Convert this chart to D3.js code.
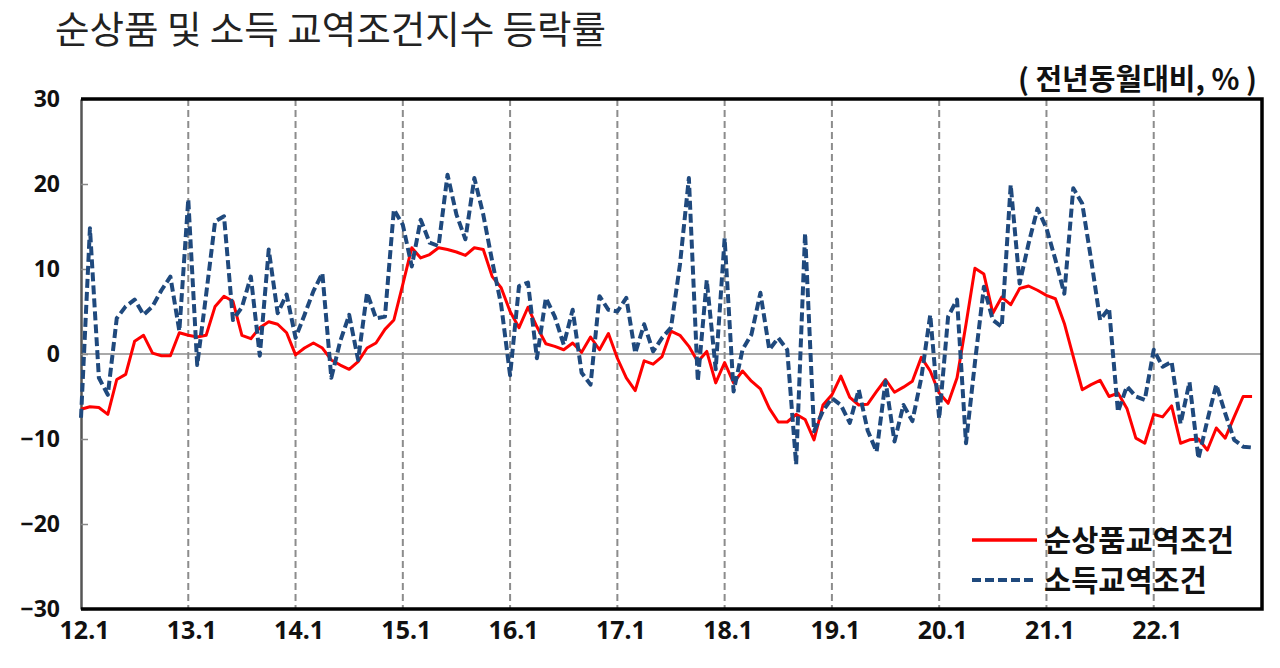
<!DOCTYPE html>
<html>
<head>
<meta charset="utf-8">
<title>순상품 및 소득 교역조건지수 등락률</title>
<script src="https://cdn.jsdelivr.net/npm/d3@7"></script>
<style>
  body { margin:0; background:white; }
  svg { display:block; font-family:"Noto Sans CJK KR","Noto Sans",sans-serif; }
</style>
</head>
<body>
<div id="chart"></div>
<script>
// x labels: first month of each year (12.1 = 2012 Jan)
var yearLabels = ['12.1','13.1','14.1','15.1','16.1','17.1','18.1','19.1','20.1','21.1','22.1'];
var yTicks = [-30, -20, -10, 0, 10, 20, 30];
var seriesNames = ['순상품교역조건', '소득교역조건'];

// monthly YoY change, %, 2012.1 ~ 2022.12
var netTerms = [
  -6.5, -6.2, -6.3, -7.1, -3.0, -2.4, 1.5, 2.2, 0.1, -0.2, -0.2, 2.5,
  2.2, 2.0, 2.2, 5.6, 6.8, 6.2, 2.2, 1.8, 3.1, 3.8, 3.5, 2.5,
  -0.1, 0.7, 1.3, 0.7, -0.7, -1.3, -1.8, -0.9, 0.7, 1.3, 2.9, 4.0,
  8.2, 12.5, 11.3, 11.7, 12.5, 12.3, 12.0, 11.6, 12.5, 12.3, 9.1, 7.8,
  5.0, 3.1, 5.5, 3.2, 1.2, 0.9, 0.5, 1.3, 0.2, 2.0, 0.5, 2.4,
  -0.5, -2.8, -4.3, -0.8, -1.2, -0.3, 2.7, 2.2, 0.9, -0.9, 0.3, -3.4,
  -1.0, -3.4, -2.0, -3.2, -4.1, -6.4, -8.0, -8.0, -7.1, -7.7, -10.1, -6.0,
  -4.8, -2.6, -5.1, -6.0, -5.9, -4.4, -3.0, -4.5, -3.9, -3.2, -0.4, -2.0,
  -4.6, -5.8, -2.8, 3.5, 10.1, 9.4, 4.8, 6.7, 5.8, 7.7, 8.0, 7.5,
  6.9, 6.5, 3.6, -0.3, -4.2, -3.6, -3.1, -5.0, -4.6, -6.4, -9.9, -10.5,
  -7.1, -7.4, -6.1, -10.5, -10.1, -10.0, -11.3, -8.7, -9.9, -7.4, -5.0, -5.0
];
var incomeTerms = [
  -7.5, 14.8, -2.8, -4.8, 4.2, 5.6, 6.4, 4.6, 5.6, 7.5, 9.1, 2.7,
  18.2, -1.3, 7.0, 15.6, 16.2, 4.0, 5.5, 9.1, -0.2, 12.3, 4.8, 7.0,
  1.9, 4.6, 7.4, 9.5, -2.8, 1.5, 4.6, -0.7, 7.2, 4.2, 4.4, 17.0,
  15.2, 10.3, 15.8, 13.1, 12.7, 21.1, 16.4, 13.5, 20.7, 16.4, 10.9, 5.8,
  -2.5, 8.0, 8.4, -0.5, 6.6, 4.4, 1.1, 5.2, -2.2, -3.6, 6.8, 5.2,
  5.0, 6.6, 0.1, 3.5, 0.3, 1.9, 3.1, 10.5, 20.7, -3.2, 8.7, -1.8,
  13.6, -4.4, 0.5, 2.3, 7.2, 0.5, 1.9, 0.5, -13.0, 14.2, -9.1, -6.7,
  -5.2, -6.0, -8.1, -4.2, -9.0, -11.5, -3.2, -10.3, -6.0, -7.9, -2.8, 4.6,
  -7.6, 4.4, 6.4, -10.5, -1.0, 7.9, 4.0, 3.2, 19.9, 8.3, 13.0, 17.1,
  14.8, 11.1, 7.1, 19.5, 17.7, 11.1, 4.0, 5.4, -6.8, -3.8, -5.0, -5.4,
  0.5, -1.5, -0.9, -8.2, -3.3, -12.3, -7.8, -3.6, -7.0, -10.1, -10.9, -11.0
];

var w = 1280, h = 668;
var pLeft = 81, pRight = 1262, pTop = 99, pBottom = 609;

var svg = d3.select('#chart').append('svg')
  .attr('width', w)
  .attr('height', h);

var x = d3.scaleLinear().domain([0, netTerms.length]).range([pLeft, 1261]);
var y = d3.scaleLinear().domain([-30, 30]).range([pBottom, pTop]);

// title + unit
svg.append('text')
  .attr('x', 55).attr('y', 43)
  .attr('font-size', 37.5).attr('fill', '#222')
  .text('순상품 및 소득 교역조건지수 등락률');

svg.append('text')
  .attr('x', 1257).attr('y', 90)
  .attr('text-anchor', 'end')
  .attr('font-size', 29).attr('font-weight', 'bold').attr('fill', '#111')
  .text('( 전년동월대비, % )');

// year gridlines (dashed)
var yearIdx = yearLabels.map(function(d, i) { return i * 12; });
svg.append('g').selectAll('line')
  .data(yearIdx.slice(1))
  .enter().append('line')
    .attr('x1', function(d) { return x(d); })
    .attr('x2', function(d) { return x(d); })
    .attr('y1', pTop).attr('y2', pBottom)
    .attr('stroke', '#8c8c8c')
    .attr('stroke-width', 2)
    .attr('stroke-dasharray', '7,4');

// zero line
svg.append('line')
  .attr('x1', pLeft).attr('x2', pRight)
  .attr('y1', y(0)).attr('y2', y(0))
  .attr('stroke', '#8c8c8c').attr('stroke-width', 1.5);

// y axis, ticks pointing inward
var yAxis = d3.axisLeft(y).tickValues(yTicks).tickSizeInner(-7).tickSizeOuter(0).tickPadding(21);
var gy = svg.append('g').attr('transform', 'translate(' + pLeft + ',0)').call(yAxis);
gy.select('.domain').attr('stroke', '#555').attr('stroke-width', 2.5);
gy.selectAll('.tick line').attr('stroke', '#888').attr('stroke-width', 1.5);
gy.selectAll('.tick text')
  .attr('font-size', 23).attr('font-weight', 'bold').attr('fill', '#111')
  .attr('font-family', '"Noto Sans","Noto Sans CJK KR",sans-serif');

// x axis labels
var xAxis = d3.axisBottom(x).tickValues(yearIdx).tickSize(0).tickPadding(12)
  .tickFormat(function(d, i) { return yearLabels[i]; });
var gx = svg.append('g').attr('transform', 'translate(3,' + pBottom + ')').call(xAxis);
gx.select('.domain').remove();
gx.selectAll('.tick text')
  .attr('font-size', 25).attr('font-weight', 'bold').attr('fill', '#111')
  .attr('font-family', '"Noto Sans","Noto Sans CJK KR",sans-serif');

// frame: top, right, bottom in black
svg.append('path')
  .attr('d', 'M' + pLeft + ',' + pTop + 'H' + pRight + 'V' + pBottom + 'H' + pLeft)
  .attr('fill', 'none').attr('stroke', '#000').attr('stroke-width', 3.5);

var line = d3.line()
  .x(function(d, i) { return x(i); })
  .y(function(d) { return y(d); });

svg.append('path')
  .datum(netTerms)
  .attr('d', line)
  .attr('fill', 'none')
  .attr('stroke', '#ff0000')
  .attr('stroke-width', 3)
  .attr('stroke-linejoin', 'round');

svg.append('path')
  .datum(incomeTerms)
  .attr('d', line)
  .attr('fill', 'none')
  .attr('stroke', '#1f497d')
  .attr('stroke-width', 4)
  .attr('stroke-dasharray', '9,4')
  .attr('stroke-linejoin', 'round');

// legend
var legend = svg.append('g').attr('transform', 'translate(972,540)');
var styles = [
  { stroke: '#ff0000', dash: null, width: 3.5 },
  { stroke: '#1f497d', dash: '9,4', width: 4 }
];
seriesNames.forEach(function(name, i) {
  var g = legend.append('g').attr('transform', 'translate(0,' + (i * 40) + ')');
  g.append('line')
    .attr('x1', 0).attr('x2', 65).attr('y1', 0).attr('y2', 0)
    .attr('stroke', styles[i].stroke)
    .attr('stroke-width', styles[i].width)
    .attr('stroke-dasharray', styles[i].dash);
  g.append('text')
    .attr('x', 72).attr('y', 11)
    .attr('font-size', 29.5).attr('font-weight', 'bold').attr('fill', '#111')
    .text(name);
});
</script>
</body>
</html>
